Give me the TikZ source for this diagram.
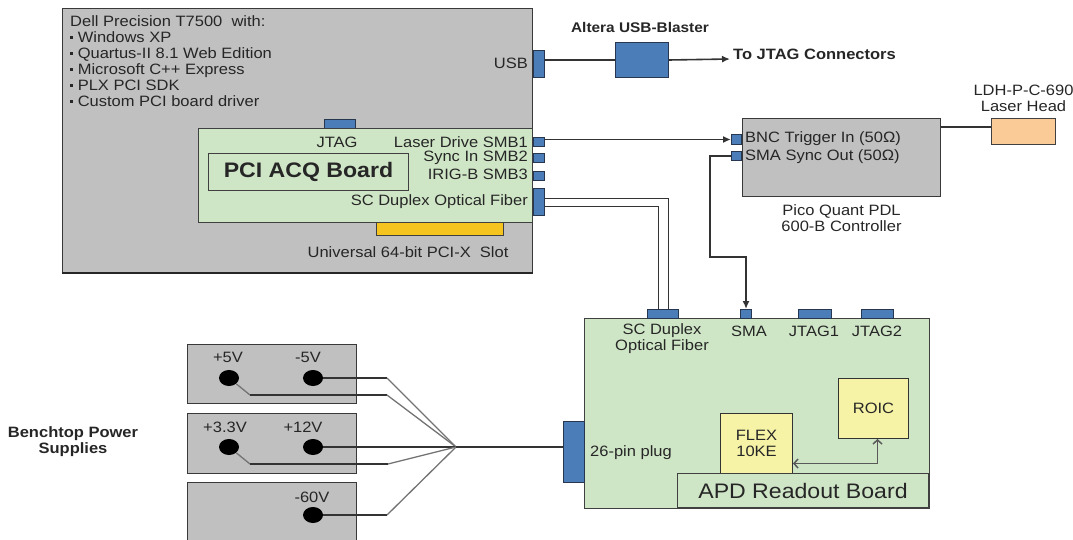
\documentclass[tikz,border=0pt]{standalone}
\usepackage{fontspec}
\setmainfont{Liberation Sans}[FakeStretch=1.1]
\usetikzlibrary{arrows.meta, positioning, shapes.geometric}
\definecolor{pcgray}{RGB}{192,192,192}
\definecolor{boardgreen}{RGB}{207,230,198}
\definecolor{connblue}{RGB}{75,125,185}
\definecolor{connedge}{RGB}{40,55,80}
\definecolor{slotyellow}{RGB}{245,196,30}
\definecolor{chipyellow}{RGB}{246,242,166}
\definecolor{laserpeach}{RGB}{250,203,150}
\newcommand{\sqb}{\rule[0.22em]{3pt}{3pt}\ }

\begin{document}
\begin{tikzpicture}[
    x=1pt, y=-1pt,
    font=\fontsize{15}{16}\selectfont, text=black!85,
    pcbox/.style={draw=gray!45!black, line width=1pt, fill=pcgray, inner sep=0, anchor=north west},
    board/.style={draw=black!75, line width=1pt, fill=boardgreen, inner sep=0, anchor=north west},
    conn/.style={draw=connedge, line width=1pt, fill=connblue, inner sep=0, anchor=north west},
    chip/.style={draw=black!80, line width=1pt, fill=chipyellow, inner sep=0, anchor=north west, align=center},
    dot/.style={ellipse, fill=black, inner sep=0, minimum width=20pt, minimum height=16pt},
    lbl/.style={inner sep=0, align=center},
    boldlbl/.style={lbl, font=\fontsize{15}{16}\selectfont\bfseries},
    wire/.style={draw=black!80, line width=1.6pt},
    lead/.style={draw=black!55, line width=1.3pt},
    sig/.style={wire, -{Latex[length=8pt, width=7pt]}},
    link/.style={draw=black!65, line width=1.5pt,
        {Straight Barb[length=4pt, width=9pt]}-{Straight Barb[length=4pt, width=9pt]}}
]
    \useasboundingbox (0,0) rectangle (1073,540);

    % host PC and acquisition board
    \node[pcbox, minimum width=470pt, minimum height=264pt] (pc) at (62,8) {};
    \draw[black!85, line width=2pt] (pc.south west) -- (pc.south east);
    \node[lbl, anchor=north west, align=left] (pcinfo) at (70,15) {Dell Precision T7500\ \ with:\\
        \sqb Windows XP\\ \sqb Quartus-II 8.1 Web Edition\\ \sqb Microsoft C++ Express\\
        \sqb PLX PCI SDK\\ \sqb Custom PCI board driver};
    \node[lbl] (slotlbl) at (408,252) {Universal 64-bit PCI-X\ \ Slot};
    \node[draw=black!75, line width=1pt, fill=slotyellow, inner sep=0, anchor=north west,
        minimum width=127pt, minimum height=20pt] (slot) at (376,215) {};
    \node[conn, minimum width=31pt, minimum height=12pt] (jtagpc) at (324,119) {};
    \node[board, minimum width=334pt, minimum height=94pt] (pci) at (198,128) {};
    \node[board, minimum width=200pt, minimum height=37pt,
        font=\fontsize{21}{24}\selectfont\bfseries] (pcititle) at (208,153) {PCI ACQ Board};
    \node[lbl] (jtaglbl) at (337,142) {JTAG};
    \node[lbl, anchor=east] (smb1lbl) at (528,142) {Laser Drive SMB1};
    \node[lbl, anchor=east] (smb2lbl) at (528,158) {Sync In SMB2};
    \node[lbl, anchor=east] (smb3lbl) at (528,174) {IRIG-B SMB3};
    \node[lbl, anchor=east] (fiberlbl) at (528,202) {SC Duplex Optical Fiber};
    \node[conn, minimum width=11pt, minimum height=9pt] (smb1) at (533,137) {};
    \node[conn, minimum width=11pt, minimum height=9pt] (smb2) at (533,153) {};
    \node[conn, minimum width=11pt, minimum height=9pt] (smb3) at (533,171) {};
    \node[conn, minimum width=11pt, minimum height=27pt] (fiberout) at (533,188) {};
    \node[conn, minimum width=11pt, minimum height=27pt] (usb) at (533,50) {};
    \node[lbl, anchor=east] (usblbl) at (528,63) {USB};

    % USB blaster
    \node[conn, minimum width=53pt, minimum height=35pt] (blaster) at (615,42) {};
    \node[boldlbl, font=\fontsize{14}{16}\selectfont\bfseries] (blasterlbl) at (640,27) {Altera USB-Blaster};
    \coordinate (jtagout) at (730,59);
    \node[boldlbl, anchor=west] (jtagoutlbl) at (733,54) {To JTAG Connectors};

    % laser controller and head
    \node[pcbox, minimum width=198pt, minimum height=78pt] (pdl) at (742,118) {};
    \node[conn, anchor=north east, minimum width=10pt, minimum height=10pt] (bnc) at (742,134) {};
    \node[conn, anchor=north east, minimum width=10pt, minimum height=9pt] (smaout) at (742,151) {};
    \node[lbl, anchor=west] (bnclbl) at (745,139) {BNC Trigger In (50Ω)};
    \node[lbl, anchor=west] (smaoutlbl) at (745,157) {SMA Sync Out (50Ω)};
    \node[lbl, below=7pt of pdl] (pdllbl) {Pico Quant PDL\\600-B Controller};
    \node[draw=black!75, line width=1pt, fill=laserpeach, inner sep=0, anchor=north west,
        minimum width=64pt, minimum height=26pt] (laser) at (991,118) {};
    \node[lbl, above=6pt of laser] (laserlbl) {LDH-P-C-690\\Laser Head};

    % APD readout board
    \node[board, minimum width=345pt, minimum height=190pt] (apd) at (584,318) {};
    \node[conn, minimum width=31pt, minimum height=9pt] (fiberin) at (647,309) {};
    \node[conn, minimum width=11pt, minimum height=9pt] (smain) at (740,309) {};
    \node[conn, minimum width=33pt, minimum height=9pt] (jtag1) at (798,309) {};
    \node[conn, minimum width=32pt, minimum height=9pt] (jtag2) at (861,309) {};
    \node[lbl] (fiberinlbl) at (662,339) {SC Duplex\\Optical Fiber};
    \node[lbl] (smainlbl) at (749,331) {SMA};
    \node[lbl] (jtag1lbl) at (814,331) {JTAG1};
    \node[lbl] (jtag2lbl) at (877,331) {JTAG2};
    \node[conn, minimum width=21pt, minimum height=61pt] (plug) at (563,421) {};
    \node[lbl, anchor=west] (pluglbl) at (590,453) {26-pin plug};
    \node[chip, minimum width=70pt, minimum height=60pt] (roic) at (838,378) {ROIC};
    \node[chip, minimum width=72pt, minimum height=60pt] (flex) at (720,413) {FLEX\\10KE};
    \node[board, minimum width=251pt, minimum height=34pt,
        font=\fontsize{21}{24}\selectfont] (apdtitle) at (677,473) {APD Readout Board};

    % power supplies
    \node[pcbox, minimum width=169pt, minimum height=59pt] (psu1) at (187,344) {};
    \node[pcbox, minimum width=169pt, minimum height=60pt] (psu2) at (187,413) {};
    \node[pcbox, minimum width=169pt, minimum height=70pt] (psu3) at (187,482) {};
    \node[lbl] (p5lbl) at (228,357) {+5V};
    \node[lbl] (m5lbl) at (308,357) {-5V};
    \node[lbl] (p33lbl) at (225,427) {+3.3V};
    \node[lbl] (p12lbl) at (303,427) {+12V};
    \node[lbl] (m60lbl) at (312,497) {-60V};
    \node[dot] (p5) at (229,378) {};
    \node[dot] (m5) at (313,378) {};
    \node[dot] (p33) at (229,447) {};
    \node[dot] (p12) at (313,447) {};
    \node[dot] (m60) at (313,515) {};
    \node[boldlbl] (psulbl) at (73,442) {Benchtop Power\\Supplies};
    \coordinate (hub) at (456,447);

    % connections
    \draw[wire] (usb.east |- blaster.west) -- (blaster.west);
    \draw[sig] (blaster.east) -- (jtagout);
    \draw[sig] (smb1.east |- bnc.west) -- (bnc.west);
    \draw[wire] (pdl.east |- 0,127) -- (laser.west |- 0,127);
    \draw[sig] (smaout.west) -| (710,257) -| (smain.north);
    \draw[wire] ([yshift=3.5pt]fiberout.east) -| ([xshift=5.5pt]fiberin.north);
    \draw[wire] ([yshift=-4.5pt]fiberout.east) -| ([xshift=-4.5pt]fiberin.north);
    \draw[link] ([yshift=-20pt]flex.east) -| ([xshift=4pt]roic.south);

    \draw[wire] (m5.east) -- (387,378);
    \draw[lead] (387,378) -- (hub);
    \draw[lead] (p5.south east) -- (250,395);
    \draw[wire] (250,395) -- (387,395);
    \draw[lead] (387,395) -- (hub);
    \draw[wire] (p12.east) -- (hub);
    \draw[lead] (p33.south east) -- (250,464);
    \draw[wire] (250,464) -- (388,464);
    \draw[lead] (388,464) -- (hub);
    \draw[wire] (m60.east) -- (387,515);
    \draw[lead] (387,515) -- (hub);
    \draw[wire, line width=2.8pt] (hub) -- (plug.west |- hub);
\end{tikzpicture}
\end{document}
